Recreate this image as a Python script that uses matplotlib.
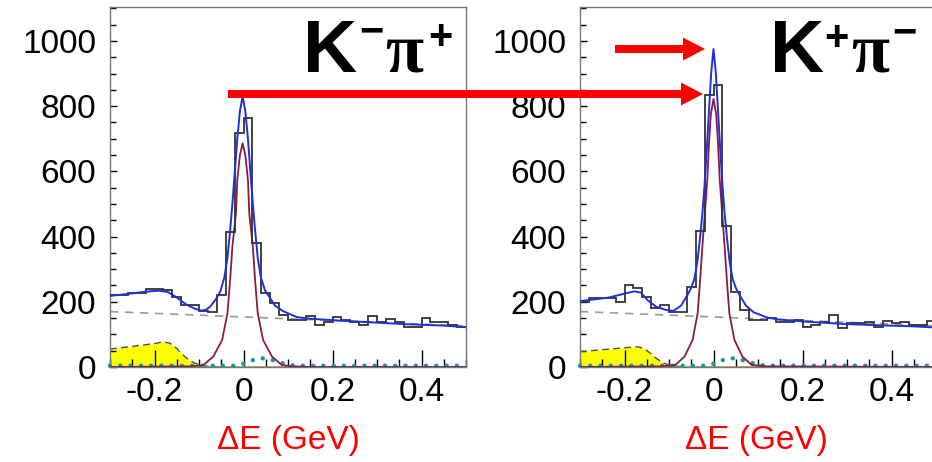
import numpy as np
import matplotlib
matplotlib.use('Agg')
import matplotlib.pyplot as plt
import matplotlib.patches as mpatches
from matplotlib.ticker import MultipleLocator

plt.rcParams['font.family'] = ['Liberation Sans', 'DejaVu Sans']
plt.rcParams['axes.unicode_minus'] = False

## histogram bins (Delta E, GeV)
edges = np.round(np.linspace(-0.30, 0.50, 41), 2)

hist_L = [221, 221, 228, 226, 240, 238, 236, 214, 190, 190,
          172, 168, 221, 415, 719, 763, 379, 228, 195, 160,
          144, 144, 156, 129, 139, 152, 144, 139, 129, 156,
          139, 146, 139, 124, 124, 151, 139, 139, 130, 124]
hist_R = [200, 211, 211, 211, 200, 251, 241, 215, 180, 190,
          170, 170, 245, 417, 834, 865, 432, 229, 175, 144,
          144, 149, 139, 139, 144, 124, 129, 139, 161, 119,
          134, 134, 139, 124, 141, 134, 139, 129, 129, 141]

## total fit (blue)
fit_x_L = [-0.30, -0.26, -0.22, -0.19, -0.17, -0.15, -0.13, -0.11, -0.095, -0.085,
           -0.075, -0.062, -0.052, -0.043, -0.036, -0.030, -0.025, -0.020, -0.014, -0.008,
           -0.002, 0.004, 0.010, 0.016, 0.021, 0.026, 0.032, 0.039, 0.048, 0.058,
           0.071, 0.088, 0.12, 0.15, 0.22, 0.30, 0.37, 0.45, 0.50]
fit_y_L = [218, 224, 231, 234, 230, 213, 193, 179, 173, 175,
           185, 208, 232, 275, 335, 420, 500, 590, 700, 785,
           830, 785, 700, 590, 500, 420, 335, 275, 236, 215,
           188, 172, 153, 148, 142, 136, 131, 127, 122]
fit_x_R = [-0.30, -0.235, -0.20, -0.178, -0.163, -0.148, -0.129, -0.107, -0.090, -0.073,
           -0.058, -0.050, -0.043, -0.036, -0.030, -0.025, -0.020, -0.015, -0.010, -0.005,
           0.0, 0.005, 0.010, 0.015, 0.020, 0.025, 0.030, 0.036, 0.043, 0.050,
           0.058, 0.073, 0.09, 0.12, 0.144, 0.219, 0.294, 0.369, 0.444, 0.50]
fit_y_R = [202, 213, 225, 232, 228, 205, 185, 175, 172, 188,
           222, 243, 270, 325, 400, 470, 560, 670, 790, 905,
           975, 905, 790, 670, 560, 470, 400, 325, 270, 243,
           222, 188, 168, 152, 146, 138, 132, 128, 125, 121]

## signal (maroon)
sig_x_L = [-0.30, -0.12, -0.09, -0.068, -0.048, -0.036, -0.030, -0.025, -0.017, -0.014,
           -0.008, -0.002, 0.004, 0.010, 0.013, 0.021, 0.026, 0.032, 0.044, 0.064,
           0.086, 0.11, 0.15, 0.50]
sig_y_L = [0, 2, 6, 32, 83, 165, 267, 369, 471, 574,
           650, 686, 650, 574, 471, 369, 267, 165, 83, 32,
           6, 2, 0, 0]
sig_x_R = [-0.30, -0.12, -0.086, -0.065, -0.047, -0.0356, -0.030, -0.025, -0.0195, -0.014,
           -0.010, -0.006, 0.0, 0.006, 0.010, 0.014, 0.0195, 0.025, 0.030, 0.0356,
           0.047, 0.065, 0.086, 0.12, 0.50]
sig_y_R = [0, 2, 6, 32, 83, 165, 267, 369, 471, 574,
           690, 775, 822, 775, 690, 574, 471, 369, 267, 165,
           83, 32, 6, 2, 0]

## combinatorial background (grey dashed)
bkg_x = [-0.30, 0.50]
bkg_y = [170, 126]

## peaking background (yellow)
pk_x_L = [-0.30, -0.25, -0.20, -0.18, -0.165, -0.15, -0.14, -0.125, -0.11, -0.09, -0.07, -0.05]
pk_y_L = [55, 63, 72, 77, 73, 57, 42, 24, 12, 4, 1, 0]
pk_x_R = [-0.30, -0.25, -0.20, -0.17, -0.155, -0.14, -0.13, -0.115, -0.10, -0.08, -0.06]
pk_y_R = [47, 53, 59, 62, 56, 40, 28, 14, 6, 2, 0]

## feed-across (teal dotted)
fa_x = [-0.30, -0.02, -0.01, 0.0, 0.012, 0.034, 0.055, 0.076, 0.10, 0.12, 0.50]
fa_y = [4, 4, 6, 10, 17, 27, 26, 16, 7, 4, 4]

W, H = 932, 462
fig = plt.figure(figsize=(W / 100, H / 100), dpi=100)


def draw_panel(x0, hist, fx, fy, sx, sy, px, py):
    ax = fig.add_axes([x0 / W, (H - 367) / H, 356 / W, 360 / H])
    ax.fill_between(px, py, 0, color='#ffff00', lw=0, zorder=1)
    ax.plot(px, py, color='#555533', lw=1.0, ls=(0, (5, 3)), zorder=2)
    ax.axhline(1.5, color='#a89030', lw=1.8, zorder=2)
    ax.plot(bkg_x, bkg_y, color='#999999', lw=1.2, ls=(0, (5, 4)), zorder=2)
    ax.plot(fa_x, fa_y, color='#159a9a', lw=3.2, ls=(0, (0.01, 2.3)),
            dash_capstyle='round', zorder=3, clip_on=False)
    ax.plot(sx, sy, color='#8b1a45', lw=1.3, zorder=4)
    ax.stairs(hist, edges, baseline=None, color='#333333', lw=1.3, zorder=5)
    ax.plot(fx, fy, color='#2030d8', lw=1.4, zorder=6)

    ax.set_xlim(-0.30, 0.50)
    ax.set_ylim(0, 1104)
    ax.xaxis.set_major_locator(MultipleLocator(0.2))
    ax.xaxis.set_minor_locator(MultipleLocator(0.05))
    ax.yaxis.set_major_locator(MultipleLocator(200))
    ax.yaxis.set_minor_locator(MultipleLocator(50))
    ax.xaxis.set_major_formatter(lambda v, p: '0' if abs(v) < 1e-9 else '%g' % v)
    ax.tick_params(axis='x', which='major', direction='in', length=12, width=1,
                   labelsize=24, pad=7)
    ax.tick_params(axis='x', which='minor', direction='in', length=6, width=1)
    ax.tick_params(axis='y', which='major', direction='in', length=5, width=1,
                   labelsize=24, pad=10)
    ax.tick_params(axis='y', which='minor', direction='in', length=4, width=1)
    for sp in ax.spines.values():
        sp.set_color('#777777')
        sp.set_linewidth(1.0)
    return ax


axL = draw_panel(110, hist_L, fit_x_L, fit_y_L, sig_x_L, sig_y_L, pk_x_L, pk_y_L)
axR = draw_panel(580, hist_R, fit_x_R, fit_y_R, sig_x_R, sig_y_R, pk_x_R, pk_y_R)


def ftxt(x, y, s, **kw):
    fig.text(x / 100, (H - y) / 100, s, transform=fig.dpi_scale_trans, **kw)


## x axis titles
ftxt(288, 440, 'ΔE (GeV)', color='red', size=24, ha='center', va='center')
ftxt(756, 440, 'ΔE (GeV)', color='red', size=24, ha='center', va='center')

## channel labels
ftxt(303, 72, 'K', size=54, weight='bold', ha='left', va='baseline')
ftxt(371, 32, '−', size=30, weight='bold', ha='center', va='center')
ftxt(385, 72, 'π', size=50, weight='bold', family='Liberation Serif', ha='left', va='baseline')
ftxt(440, 38, '+', size=30, weight='bold', ha='center', va='center')

ftxt(770, 72, 'K', size=54, weight='bold', ha='left', va='baseline')
ftxt(836, 39, '+', size=30, weight='bold', ha='center', va='center')
ftxt(851, 72, 'π', size=50, weight='bold', family='Liberation Serif', ha='left', va='baseline')
ftxt(904, 33, '−', size=30, weight='bold', ha='center', va='center')

## red arrows
for x0, x1, y in [(228, 703, 94), (615, 705, 49)]:
    arr = mpatches.FancyArrow(x0 / 100, (H - y) / 100, (x1 - x0) / 100, 0,
                              width=0.08, head_width=0.23, head_length=0.22,
                              length_includes_head=True, color='#ff0000', lw=0,
                              transform=fig.dpi_scale_trans, zorder=10)
    fig.add_artist(arr)

fig.savefig('out.png', dpi=100)
